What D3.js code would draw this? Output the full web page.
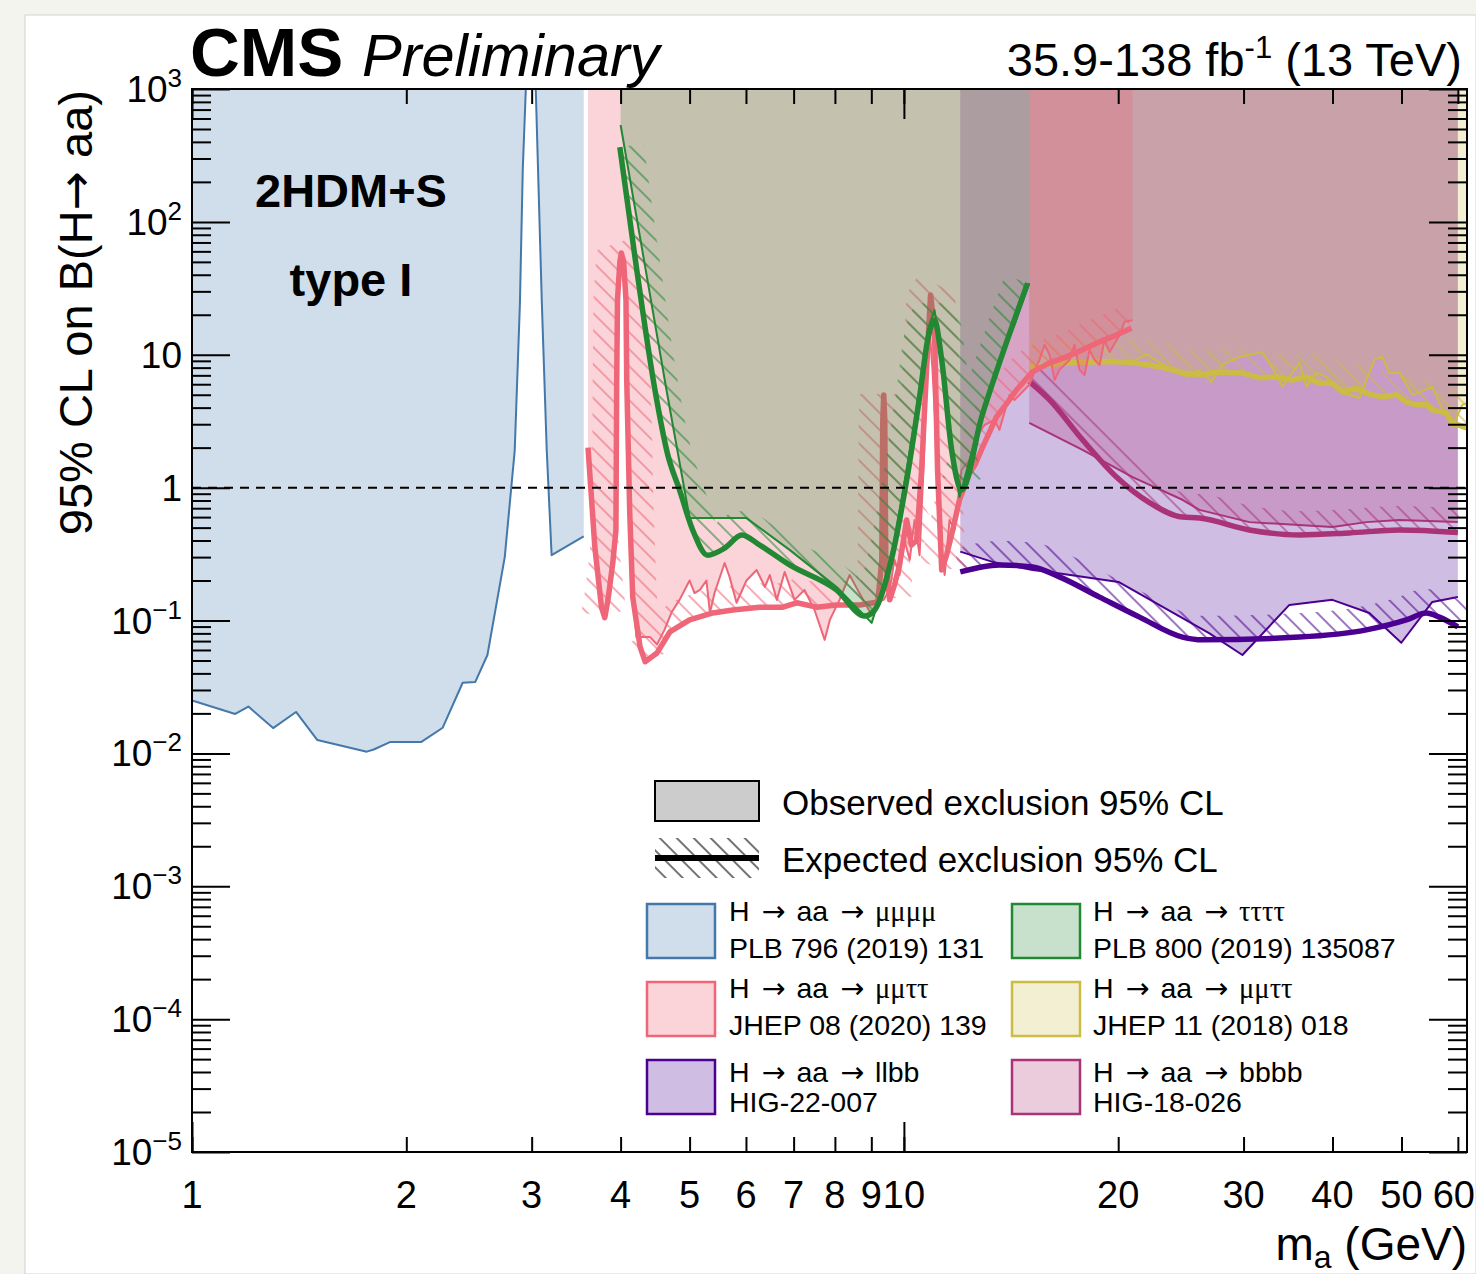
<!DOCTYPE html>
<html>
<head>
<meta charset="utf-8">
<script src="https://cdn.jsdelivr.net/npm/d3@7"></script>
<style>
  html, body { margin: 0; padding: 0; background: #f4f4ef; }
  svg { display: block; }
  text { font-family: "Liberation Sans", Arial, Helvetica, sans-serif; fill: #000; }
  .sym { font-family: "Liberation Serif", "DejaVu Serif", serif; }
  .arrow { font-family: "DejaVu Sans", sans-serif; }
</style>
</head>
<body>
<svg id="chart" width="1476" height="1274"></svg>
<script>
// ---- limits: [m_a (GeV), 95% CL upper limit on B(H -> aa)] ----
const mu4Obs = [[1.0,0.025],[1.15,0.0198],[1.2,0.0225],[1.3,0.0155],[1.4,0.0205],[1.5,0.0126],[1.76,0.0103],[1.8,0.0107],[1.9,0.0122],[2.1,0.0122],[2.25,0.0156],[2.4,0.034],[2.5,0.0345],[2.6,0.055],[2.75,0.30],[2.84,1.9],[2.888,24],[2.915,250],[2.944,1000],[2.99,1e5],[3.04,1000],[3.1,25],[3.15,1.9],[3.2,0.31],[3.55,0.43]];

const mmtt20Obs = [[3.6,1.95],[3.68,0.358],[3.76,0.13],[3.80,0.11],[3.84,0.146],[3.90,0.286],[3.94,0.524],[3.95,6.46],[3.96,24],[3.99,45],[4.01,51.6],[4.04,45],[4.07,24],[4.08,6.46],[4.12,0.68],[4.16,0.17],[4.21,0.075],[4.40,0.075],[4.50,0.066],[4.61,0.085],[4.72,0.116],[4.84,0.143],[5.00,0.20],[5.08,0.161],[5.17,0.17],[5.28,0.20],[5.34,0.114],[5.42,0.161],[5.60,0.271],[5.69,0.213],[5.82,0.136],[6.01,0.20],[6.21,0.24],[6.38,0.179],[6.48,0.22],[6.63,0.143],[6.80,0.232],[7.02,0.143],[7.25,0.17],[7.49,0.12],[7.74,0.0715],[7.87,0.101],[8.12,0.143],[8.39,0.22],[8.61,0.17],[8.81,0.136],[9.01,0.11],[9.19,0.138],[9.37,0.143],[9.55,0.17],[9.70,0.286],[9.86,0.22],[10.02,0.40],[10.19,0.286],[10.35,0.57],[10.52,0.31],[10.66,1.48],[10.76,6.5],[10.87,15],[10.97,7.7],[11.15,1.36],[11.22,0.40],[11.41,0.22],[11.59,0.57],[11.78,0.48],[12.05,1.36],[12.37,1.62],[12.57,2.29],[12.98,2.96],[13.41,3.23],[13.62,2.72],[14.07,4.98],[14.30,4.57],[14.53,4.98],[15.0,5.93],[15.5,9.15],[15.76,11.9],[16.02,9.97],[16.28,6.46],[16.54,7.69],[17.09,9.15],[17.36,11.9],[17.65,7.69],[17.94,7.05],[18.23,10.9],[18.53,9.15],[18.83,8.38],[19.13,12.9],[19.45,10.5],[20.09,14.1],[20.41,17.7],[20.95,18.2]];
const mmtt20Exp = [[3.6,2.0],[3.68,0.358],[3.76,0.126],[3.80,0.105],[3.84,0.143],[3.90,0.271],[3.94,0.48],[3.95,6.46],[3.96,25.8],[3.99,49.9],[4.01,58.3],[4.04,49.9],[4.07,25.8],[4.08,6.46],[4.12,0.645],[4.16,0.150],[4.26,0.0633],[4.33,0.049],[4.50,0.057],[4.69,0.082],[5.00,0.101],[5.39,0.114],[5.75,0.120],[6.27,0.126],[6.76,0.126],[7.07,0.136],[7.54,0.126],[8.04,0.131],[8.67,0.131],[9.19,0.138],[9.31,0.286],[9.34,3.23],[9.37,4.98],[9.40,3.23],[9.43,0.286],[9.55,0.143],[9.70,0.185],[9.86,0.262],[10.09,0.57],[10.25,0.37],[10.42,0.40],[10.59,1.36],[10.76,7.69],[10.90,28.2],[11.04,15.4],[11.15,1.36],[11.30,0.24],[11.48,0.31],[11.71,0.48],[11.97,0.81],[12.37,1.29],[12.6,1.5],[12.90,2.02],[13.49,3.40],[13.9,4.2],[14.39,5.43],[15.16,7.43],[16.02,8.68],[16.92,9.64],[17.82,10.9],[18.83,12.5],[19.89,14.1],[20.88,15.9]];

const tau4Obs = [[4.0,536],[4.64,5.43],[5.0,0.59],[6.01,0.59],[6.91,0.34],[8.07,0.176],[9.01,0.096],[9.34,0.179],[9.70,0.40],[10.09,1.36],[10.52,5.43],[10.80,15.4],[11.04,21.7],[11.22,12.9],[11.52,3.23],[11.78,1.36],[11.97,0.85],[12.37,1.62],[12.86,3.40],[13.62,8.68],[14.30,16.8],[15.0,34.6]];
const tau4Exp = [[3.99,366],[4.19,54.4],[4.47,5.43],[4.66,1.76],[4.84,0.96],[5.05,0.48],[5.30,0.31],[5.60,0.35],[5.92,0.44],[6.27,0.37],[6.91,0.262],[8.04,0.17],[8.81,0.108],[9.10,0.12],[9.55,0.253],[10.09,1.14],[10.52,4.81],[10.80,12.9],[11.04,18.2],[11.30,9.15],[11.67,1.92],[12.05,0.96],[12.86,3.40],[13.62,8.68],[14.92,34.6]];

const mmtt18Obs = [[15,7.95],[16.54,8.38],[18.23,8.83],[19.45,9.15],[20.95,8.83],[21.92,10.1],[22.93,8.68],[25.02,6.81],[26.01,7.69],[27.04,6.24],[28.02,8.38],[29.60,9.64],[31.89,10.5],[33.36,7.05],[34.01,5.73],[35.93,8.68],[36.76,5.73],[37.96,7.3],[39.21,6.81],[40.90,5.25],[43.63,4.73],[45.80,9.15],[46.99,9.64],[48.08,7.3],[49.65,7.3],[51.78,4.98],[55.24,5.73],[56.51,4.34],[58.93,2.86],[60.87,4.19],[61.86,4.34]];
const mmtt18Exp = [[15,8.1],[16.5,8.6],[17.8,8.8],[19.5,8.9],[21,8.7],[22,8.4],[23.4,7.9],[24.6,7.3],[26,7.05],[27.5,7.4],[29.9,7.3],[31.6,6.7],[33.4,6.8],[35.1,6.45],[36.8,6.8],[38.3,6.1],[40,6.1],[41.3,5.25],[43.2,5.6],[44.6,5.15],[47,4.8],[49.2,5.0],[50.8,4.4],[52.5,4.2],[54.2,4.2],[55.2,3.85],[57.8,3.65],[58.9,3.07],[61.7,2.82]];

const llbbObs = [[12,0.33],[13.32,0.276],[15.16,0.24],[16.02,0.232],[20.02,0.195],[26.87,0.08],[29.89,0.055],[34.79,0.131],[39.98,0.143],[45.06,0.114],[49.97,0.068],[55.24,0.138],[60,0.150]];
const llbbExp = [[12,0.232],[13.62,0.262],[15.16,0.253],[16.54,0.213],[18.83,0.150],[21.43,0.106],[24.62,0.075],[26.27,0.0715],[35.93,0.075],[44.63,0.085],[50.78,0.101],[54.18,0.114],[56.51,0.106],[60,0.0895]];

const bbbbObs = [[15,3.07],[17.82,1.92],[20.95,1.20],[24.62,0.81],[26.01,0.68],[30.57,0.55],[39.98,0.506],[44.63,0.55],[49.65,0.57],[60,0.55]];
const bbbbExp = [[15,6.3],[16.02,4.57],[17.82,2.29],[19.89,1.20],[22.13,0.77],[24.62,0.60],[26.01,0.59],[30.57,0.48],[35.93,0.44],[42.25,0.456],[49.65,0.48],[60,0.46]];

// ---- axis ticks and labels ----
const xLabelled = [1,2,3,4,5,6,7,8,9,10,20,30,40,50,60];
const xMajor = [1,10];
const yExponents = [3,2,1,0,-1,-2,-3,-4,-5];

// ---- legend text ----
const legendProcess = ["μμμμ","μμττ","llbb","ττττ","μμττ","bbbb"];
const legendRef = ["PLB 796 (2019) 131","JHEP 08 (2020) 139","HIG-22-007","PLB 800 (2019) 135087","JHEP 11 (2018) 018","HIG-18-026"];

// ---------------------------------------------------------------
const W = 1476, H = 1274;
const X0 = 192, X1 = 1467, Y0 = 89, Y1 = 1152;

const x = d3.scaleLog().domain([1, 61.8]).range([X0, X1]);
const y = d3.scaleLog().domain([1e-5, 1e3]).range([Y1, Y0]);

const svg = d3.select("#chart");
svg.append("rect").attr("width", W).attr("height", H).attr("fill", "#f4f4ef");
svg.append("rect").attr("x", 25).attr("y", 15).attr("width", W - 25).attr("height", H - 15)
  .attr("fill", "#fff").attr("stroke", "#d2d2ce").attr("stroke-width", 1);

const defs = svg.append("defs");
defs.append("clipPath").attr("id", "plotClip")
  .append("rect").attr("x", X0).attr("y", Y0).attr("width", X1 - X0).attr("height", Y1 - Y0);

function hatchPattern(id, color, width, opacity) {
  const p = defs.append("pattern").attr("id", id)
    .attr("patternUnits", "userSpaceOnUse").attr("width", 12).attr("height", 12)
    .attr("patternTransform", "rotate(-45)");
  p.append("line").attr("x1", 6).attr("y1", -1).attr("x2", 6).attr("y2", 13)
    .attr("stroke", color).attr("stroke-width", width).attr("stroke-opacity", opacity);
}

const series = [
  { id: "mu4",    obs: mu4Obs,    exp: null,      color: "#4477aa", alpha: 0.25,  smooth: false },
  { id: "llbb",   obs: llbbObs,   exp: llbbExp,   color: "#4b0092", alpha: 0.26,  smooth: true },
  { id: "bbbb",   obs: bbbbObs,   exp: bbbbExp,   color: "#aa3377", alpha: 0.25,  smooth: true },
  { id: "mmtt18", obs: mmtt18Obs, exp: mmtt18Exp, color: "#ccbb44", alpha: 0.235, smooth: false },
  { id: "mmtt20", obs: mmtt20Obs, exp: mmtt20Exp, color: "#ee6677", alpha: 0.28,  smooth: false },
  { id: "tau4",   obs: tau4Obs,   exp: tau4Exp,   color: "#228833", alpha: 0.25,  smooth: true }
];
series.forEach(s => hatchPattern("hatch-" + s.id, s.color, 1.2, 0.9));
hatchPattern("hatch-black", "#000", 1.1, 1);

// points along a rendered path, used to build the hatched band
function samplePath(node, step) {
  const L = node.getTotalLength(), pts = [];
  for (let s = 0; s < L; s += step) { const p = node.getPointAtLength(s); pts.push([p.x, p.y]); }
  const e = node.getPointAtLength(L); pts.push([e.x, e.y]);
  return pts;
}

// band of width w on the excluded (upper) side of a polyline
function bandPath(pts, w) {
  let d = "";
  const normals = [];
  for (let i = 0; i < pts.length - 1; i++) {
    const [xa, ya] = pts[i], [xb, yb] = pts[i + 1];
    const dx = xb - xa, dy = yb - ya, L = Math.hypot(dx, dy);
    if (L < 1e-6) { normals.push(null); continue; }
    const nx = dy / L * w, ny = -dx / L * w;
    normals.push([nx, ny]);
    d += `M${xa},${ya}L${xb},${yb}L${xb + nx},${yb + ny}L${xa + nx},${ya + ny}Z`;
  }
  let prev = null;
  for (let i = 0; i < normals.length; i++) {
    const n = normals[i];
    if (!n) continue;
    if (prev) {
      const [px, py] = pts[i];
      let a = [px + prev[0], py + prev[1]], b = [px + n[0], py + n[1]];
      const cr = (a[0] - px) * (b[1] - py) - (a[1] - py) * (b[0] - px);
      if (cr > 0) { const t = a; a = b; b = t; }
      d += `M${px},${py}L${a[0]},${a[1]}L${b[0]},${b[1]}Z`;
    }
    prev = n;
  }
  return d;
}

const plot = svg.append("g").attr("clip-path", "url(#plotClip)");
const lineLin = d3.line().x(d => x(d[0])).y(d => y(d[1]));
const lineSmooth = d3.line().x(d => x(d[0])).y(d => y(d[1])).curve(d3.curveMonotoneX);

series.forEach(s => {
  const g = plot.append("g");
  const pts = s.obs.map(d => [x(d[0]), y(d[1])]);
  const poly = [[pts[0][0], Y0 - 10], ...pts, [pts[pts.length - 1][0], Y0 - 10]];
  g.append("path").attr("d", "M" + poly.map(p => p.join(",")).join("L") + "Z")
    .attr("fill", s.color).attr("fill-opacity", s.alpha).attr("stroke", "none");
  let expPath = null;
  if (s.exp) {
    expPath = g.append("path").attr("d", (s.smooth ? lineSmooth : lineLin)(s.exp))
      .attr("fill", "none").attr("stroke", "none");
    const samp = samplePath(expPath.node(), 2);
    g.append("path").attr("d", bandPath(samp, 24))
      .attr("fill", `url(#hatch-${s.id})`).attr("fill-rule", "nonzero").attr("stroke", "none");
  }
  g.append("path").attr("d", lineLin(s.obs)).attr("fill", "none")
    .attr("stroke", s.color).attr("stroke-width", 2).attr("stroke-linejoin", "round");
  if (expPath) {
    expPath.raise().attr("stroke", s.color).attr("stroke-width", 5.5)
      .attr("stroke-linejoin", "round").attr("stroke-linecap", "butt");
  }
});

// B = 1 reference
plot.append("line").attr("x1", X0).attr("x2", X1).attr("y1", y(1)).attr("y2", y(1))
  .attr("stroke", "#000").attr("stroke-width", 2).attr("stroke-dasharray", "9,7");

// ---- axes (ticks inside the frame on all four sides) ----
const yMinor = [];
for (let e = -5; e < 3; e++) for (let k = 2; k <= 9; k++) yMinor.push(k * Math.pow(10, e));
const yMajor = yExponents.map(e => Math.pow(10, e));

function tickAxis(axis, transform) {
  svg.append("g").attr("transform", transform).call(axis)
    .call(g => g.select(".domain").remove())
    .call(g => g.selectAll("line").attr("stroke", "#000").attr("stroke-width", 2))
    .call(g => g.selectAll("text").remove());
}
tickAxis(d3.axisBottom(x).tickValues(xLabelled).tickSize(-15).tickSizeOuter(0), `translate(0,${Y1})`);
tickAxis(d3.axisBottom(x).tickValues(xMajor).tickSize(-30).tickSizeOuter(0), `translate(0,${Y1})`);
tickAxis(d3.axisTop(x).tickValues(xLabelled).tickSize(-15).tickSizeOuter(0), `translate(0,${Y0})`);
tickAxis(d3.axisTop(x).tickValues(xMajor).tickSize(-30).tickSizeOuter(0), `translate(0,${Y0})`);
tickAxis(d3.axisLeft(y).tickValues(yMinor).tickSize(-19).tickSizeOuter(0), `translate(${X0},0)`);
tickAxis(d3.axisLeft(y).tickValues(yMajor).tickSize(-38).tickSizeOuter(0), `translate(${X0},0)`);
tickAxis(d3.axisRight(y).tickValues(yMinor).tickSize(-19).tickSizeOuter(0), `translate(${X1},0)`);
tickAxis(d3.axisRight(y).tickValues(yMajor).tickSize(-38).tickSizeOuter(0), `translate(${X1},0)`);

svg.append("rect").attr("x", X0).attr("y", Y0).attr("width", X1 - X0).attr("height", Y1 - Y0)
  .attr("fill", "none").attr("stroke", "#000").attr("stroke-width", 2);

// x tick labels (the last one is kept inside the page)
svg.append("g").selectAll("text").data(xLabelled).join("text")
  .attr("x", (d, i) => i === xLabelled.length - 1 ? W - 1 : x(d)).attr("y", 1208)
  .attr("text-anchor", (d, i) => i === xLabelled.length - 1 ? "end" : "middle")
  .attr("font-size", 38).text(d => d);

// y tick labels
const yl = svg.append("g");
yExponents.forEach(e => {
  const t = yl.append("text").attr("x", 182).attr("y", y(Math.pow(10, e)) + 13)
    .attr("text-anchor", "end").attr("font-size", 37);
  if (e === 0) t.text("1");
  else if (e === 1) t.text("10");
  else {
    t.append("tspan").text("10");
    t.append("tspan").attr("font-size", 26).attr("dy", -15).text(e < 0 ? "\u2212" + (-e) : String(e));
  }
});

// axis titles
const yt = svg.append("text").attr("transform", `translate(92,${Y0 + 1}) rotate(-90)`)
  .attr("text-anchor", "end").attr("font-size", 47);
yt.append("tspan").text("95% CL on B(H");
yt.append("tspan").attr("class", "arrow").text("\u2192");
yt.append("tspan").text(" aa)");

const xt = svg.append("text").attr("x", X1).attr("y", 1260).attr("text-anchor", "end").attr("font-size", 46);
xt.append("tspan").text("m");
xt.append("tspan").attr("font-size", 32).attr("dy", 8).text("a");
xt.append("tspan").attr("dy", -8).text(" (GeV)");

// header
svg.append("text").attr("x", 190).attr("y", 76).attr("font-size", 69).attr("font-weight", "bold").text("CMS");
svg.append("text").attr("x", 362).attr("y", 76).attr("font-size", 59.5).attr("font-style", "italic").text("Preliminary");
const lumi = svg.append("text").attr("x", 1462).attr("y", 76).attr("text-anchor", "end").attr("font-size", 47);
lumi.append("tspan").text("35.9-138 fb");
lumi.append("tspan").attr("font-size", 31).attr("dy", -18).text("-1");
lumi.append("tspan").attr("dy", 18).text(" (13 TeV)");

// model label
svg.append("text").attr("x", 351).attr("y", 207).attr("text-anchor", "middle")
  .attr("font-size", 47).attr("font-weight", "bold").text("2HDM+S");
svg.append("text").attr("x", 351).attr("y", 296).attr("text-anchor", "middle")
  .attr("font-size", 47).attr("font-weight", "bold").text("type I");

// ---- legend ----
const lg = svg.append("g");
lg.append("rect").attr("x", 655).attr("y", 781).attr("width", 104).attr("height", 40)
  .attr("fill", "#cccccc").attr("stroke", "#000").attr("stroke-width", 2);
lg.append("text").attr("x", 782).attr("y", 815).attr("font-size", 35).text("Observed exclusion 95% CL");
lg.append("rect").attr("x", 655).attr("y", 838).attr("width", 104).attr("height", 40)
  .attr("fill", "url(#hatch-black)");
lg.append("line").attr("x1", 655).attr("x2", 759).attr("y1", 858).attr("y2", 858)
  .attr("stroke", "#000").attr("stroke-width", 6);
lg.append("text").attr("x", 782).attr("y", 872).attr("font-size", 35).text("Expected exclusion 95% CL");

const legendSeries = ["mu4", "mmtt20", "llbb", "tau4", "mmtt18", "bbbb"];
const rowBoxY = [904, 982, 1060];
const rowText1 = [921, 998, 1082];
const rowText2 = [958, 1035, 1112];
legendSeries.forEach((id, i) => {
  const s = series.find(d => d.id === id);
  const col = Math.floor(i / 3), row = i % 3;
  const bx = col === 0 ? 647 : 1012, tx = col === 0 ? 729 : 1093;
  lg.append("rect").attr("x", bx).attr("y", rowBoxY[row]).attr("width", 68).attr("height", 54)
    .attr("fill", s.color).attr("fill-opacity", s.alpha).attr("stroke", s.color).attr("stroke-width", 2.5);
  const t = lg.append("text").attr("x", tx).attr("y", rowText1[row]).attr("font-size", 28.5);
  t.append("tspan").text("H");
  t.append("tspan").attr("class", "arrow").attr("dx", 12).text("\u2192");
  t.append("tspan").attr("dx", 11).text("aa");
  t.append("tspan").attr("class", "arrow").attr("dx", 12).text("\u2192");
  const proc = legendProcess[i];
  t.append("tspan").attr("class", /[μτ]/.test(proc) ? "sym" : null).attr("dx", 11).text(proc);
  lg.append("text").attr("x", tx).attr("y", rowText2[row]).attr("font-size", 28.5).text(legendRef[i]);
});
</script>
</body>
</html>
